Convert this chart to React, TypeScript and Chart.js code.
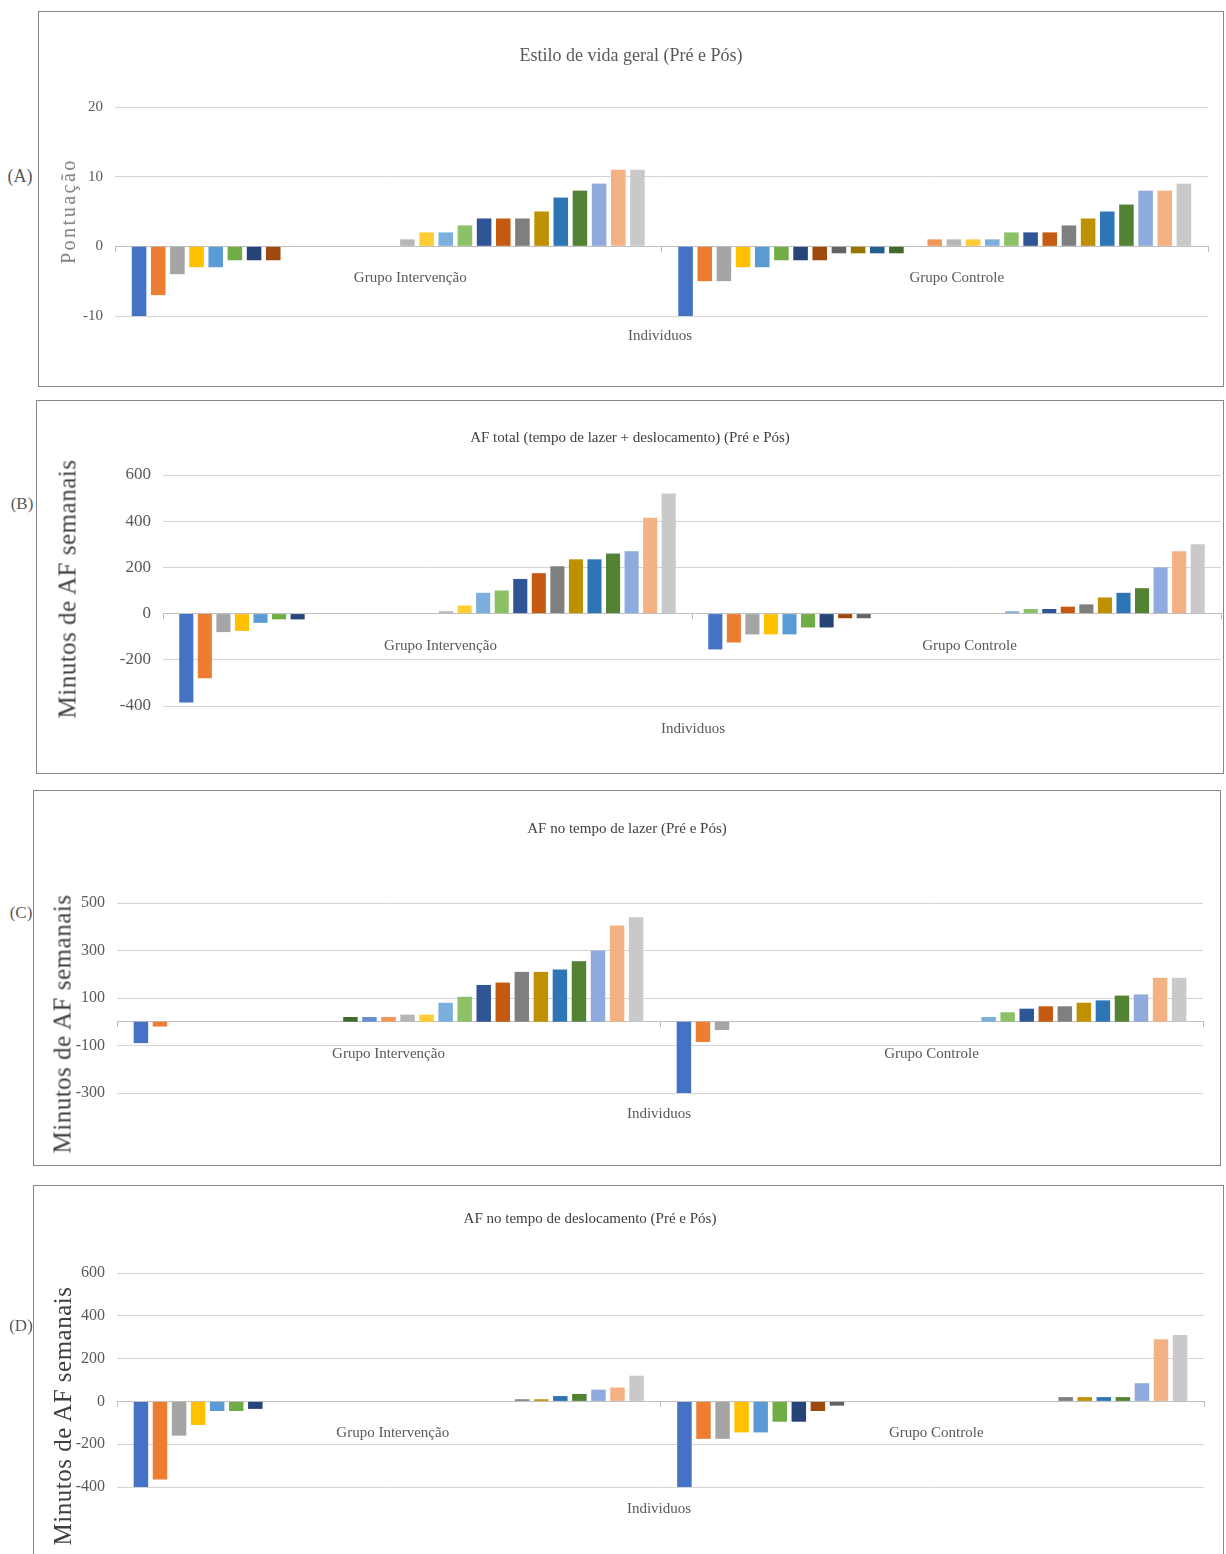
import React, { useEffect, useRef } from "react";
import { Chart, registerables } from "chart.js";

Chart.register(...registerables);

const FONT = "'Liberation Serif', 'Times New Roman', serif";
Chart.defaults.font.family = FONT;

// ---------- data ----------
const categories = ["Grupo Intervenção", "Grupo Controle"];

const seriesColors = [
  "#4472C4", "#ED7D31", "#A5A5A5", "#FFC000", "#5B9BD5", "#70AD47",
  "#264478", "#9E480E", "#636363", "#997300", "#255E91", "#43682B",
  "#698ED0", "#F1975A", "#B7B7B7", "#FFCD33", "#7CAFDD", "#8CC168",
  "#2F5597", "#C55A11", "#7F7F7F", "#BF9000", "#2E75B6", "#548235",
  "#8FAADC", "#F4B183", "#C9C9C9",
];

// (A) Estilo de vida geral
const aIntervencao = [-10, -7, -4, -3, -3, -2, -2, -2, 0, 0, 0, 0, 0, 0, 1, 2, 2, 3, 4, 4, 4, 5, 7, 8, 9, 11, 11];
const aControle = [-10, -5, -5, -3, -3, -2, -2, -2, -1, -1, -1, -1, 0, 1, 1, 1, 1, 2, 2, 2, 3, 4, 5, 6, 8, 8, 9];
const aTicks = { min: -10, max: 20, step: 10 };

// (B) AF total
const bIntervencao = [-385, -280, -80, -75, -40, -25, -25, 0, 0, 0, 0, 0, 0, 0, 10, 35, 90, 100, 150, 175, 205, 235, 235, 260, 270, 415, 520];
const bControle = [-155, -125, -90, -90, -90, -60, -60, -20, -20, 0, 0, 0, 0, 0, 0, 0, 10, 20, 20, 30, 40, 70, 90, 110, 200, 270, 300];
const bTicks = { min: -400, max: 600, step: 200 };

// (C) AF no tempo de lazer
const cIntervencao = [-90, -20, 0, 0, 0, 0, 0, 0, 0, 0, 0, 20, 20, 20, 30, 30, 80, 105, 155, 165, 210, 210, 220, 255, 300, 405, 440];
const cControle = [-300, -85, -35, 0, 0, 0, 0, 0, 0, 0, 0, 0, 0, 0, 0, 0, 20, 40, 55, 65, 65, 80, 90, 110, 115, 185, 185];
const cTicks = { min: -300, max: 500, step: 200 };

// (D) AF no tempo de deslocamento
const dIntervencao = [-400, -365, -160, -110, -45, -45, -35, 0, 0, 0, 0, 0, 0, 0, 0, 0, 0, 0, 0, 0, 10, 10, 25, 35, 55, 65, 120];
const dControle = [-400, -175, -175, -145, -145, -95, -95, -45, -20, 0, 0, 0, 0, 0, 0, 0, 0, 0, 0, 0, 20, 20, 20, 20, 85, 290, 310];
const dTicks = { min: -400, max: 600, step: 200 };

// ---------- panel layout ----------
type PanelCfg = {
  letter: string;
  title: string;
  yTitle: string;
  interv: number[];
  ctrl: number[];
  ticks: { min: number; max: number; step: number };
  box: { l: number; t: number; r: number; b: number };
  plot: { l: number; t: number; r: number; b: number };
  letterPos: [number, number, number];
  titlePos: [number, number, number, string];
  yTitlePos: [number, number, number, number, string];
  xTitlePos: [number, number];
  tickSize: number;
  labelOffset: number;
};

const panels: PanelCfg[] = [
  {
    letter: "(A)",
    title: "Estilo de vida geral (Pré e Pós)",
    yTitle: "Pontuação",
    interv: aIntervencao,
    ctrl: aControle,
    ticks: aTicks,
    box: { l: 38, t: 11, r: 1224, b: 387 },
    plot: { l: 115, t: 107, r: 1208, b: 316 },
    letterPos: [20, 176, 18],
    titlePos: [631, 55, 18, "#595959"],
    yTitlePos: [68, 211, 20, 2.5, "#7f7f7f"],
    xTitlePos: [660, 335],
    tickSize: 15,
    labelOffset: 22,
  },
  {
    letter: "(B)",
    title: "AF total (tempo de lazer + deslocamento) (Pré e Pós)",
    yTitle: "Minutos de AF semanais",
    interv: bIntervencao,
    ctrl: bControle,
    ticks: bTicks,
    box: { l: 36, t: 400, r: 1224, b: 774 },
    plot: { l: 163, t: 475, r: 1221, b: 706 },
    letterPos: [22, 503, 17],
    titlePos: [630, 437, 15, "#404040"],
    yTitlePos: [67, 589, 25, 0.5, "#404040"],
    xTitlePos: [693, 728],
    tickSize: 17,
    labelOffset: 13,
  },
  {
    letter: "(C)",
    title: "AF no tempo de lazer (Pré e Pós)",
    yTitle: "Minutos de AF semanais",
    interv: cIntervencao,
    ctrl: cControle,
    ticks: cTicks,
    box: { l: 33, t: 790, r: 1221, b: 1166 },
    plot: { l: 117, t: 903, r: 1203, b: 1093 },
    letterPos: [21, 912, 17],
    titlePos: [627, 828, 15, "#404040"],
    yTitlePos: [62, 1024, 25, 0.5, "#404040"],
    xTitlePos: [659, 1113],
    tickSize: 16,
    labelOffset: 0,
  },
  {
    letter: "(D)",
    title: "AF no tempo de deslocamento (Pré e Pós)",
    yTitle: "Minutos de AF semanais",
    interv: dIntervencao,
    ctrl: dControle,
    ticks: dTicks,
    box: { l: 33, t: 1185, r: 1224, b: 1572 },
    plot: { l: 117, t: 1273, r: 1204, b: 1487 },
    letterPos: [21, 1325, 17],
    titlePos: [590, 1218, 15, "#404040"],
    yTitlePos: [62, 1416, 25, 0.5, "#404040"],
    xTitlePos: [659, 1508],
    tickSize: 16,
    labelOffset: 4,
  },
];

function textStyle(
  cx: number,
  cy: number,
  size: number,
  color: string,
  rotate = false,
  letterSpacing = 0
): React.CSSProperties {
  return {
    position: "absolute",
    left: cx,
    top: cy,
    transform: `translate(-50%, -50%)${rotate ? " rotate(-90deg)" : ""}`,
    fontFamily: FONT,
    fontSize: size,
    color,
    whiteSpace: "nowrap",
    letterSpacing,
    lineHeight: 1,
  };
}

function Panel({ cfg }: { cfg: PanelCfg }) {
  const ref = useRef<HTMLCanvasElement>(null);
  const { box, plot } = cfg;
  const w = box.r - box.l;
  const h = box.b - box.t;

  useEffect(() => {
    if (!ref.current) return;
    const yWidth = plot.l - box.l;
    const datasets = seriesColors.map((color, i) => ({
      label: `Indivíduo ${i + 1}`,
      data: [cfg.interv[i], cfg.ctrl[i]],
      backgroundColor: color,
      borderWidth: 0,
      categoryPercentage: 0.947,
      barPercentage: 0.76,
    }));
    const chart = new Chart(ref.current, {
      type: "bar",
      data: { labels: categories, datasets },
      options: {
        animation: false,
        responsive: true,
        maintainAspectRatio: false,
        events: [],
        layout: {
          padding: {
            left: 0,
            top: plot.t - box.t,
            right: box.r - plot.r,
            bottom: box.b - plot.b,
          },
        },
        plugins: {
          legend: { display: false },
          tooltip: { enabled: false },
          title: { display: false },
        },
        scales: {
          x: {
            axis: "x",
            position: { y: 0 } as any,
            grid: {
              display: true,
              drawOnChartArea: false,
              drawTicks: true,
              tickLength: 5,
              color: "#bfbfbf",
            },
            border: { display: true, color: "#bfbfbf", width: 1 },
            ticks: {
              font: { family: FONT, size: 15 },
              color: "#595959",
              padding: 18,
              labelOffset: cfg.labelOffset,
              maxRotation: 0,
              minRotation: 0,
              autoSkip: false,
            },
          },
          y: {
            min: cfg.ticks.min,
            max: cfg.ticks.max,
            ticks: {
              stepSize: cfg.ticks.step,
              font: { family: FONT, size: cfg.tickSize },
              color: "#595959",
              padding: 12,
            },
            grid: { color: "#d4d4d4", drawTicks: false, lineWidth: 1 },
            border: { display: false },
            afterFit: (scale: any) => {
              scale.width = yWidth;
            },
          },
        },
      },
    });
    return () => chart.destroy();
  }, [cfg]);

  return (
    <>
      <div
        style={{
          position: "absolute",
          left: box.l,
          top: box.t,
          width: w,
          height: h,
          boxSizing: "border-box",
          border: "1px solid #868686",
        }}
      />
      <div
        style={{
          position: "absolute",
          left: box.l,
          top: box.t,
          width: w,
          height: h,
        }}
      >
        <canvas ref={ref} />
      </div>
      <div style={textStyle(cfg.letterPos[0], cfg.letterPos[1], cfg.letterPos[2], "#595959")}>
        {cfg.letter}
      </div>
      <div style={textStyle(cfg.titlePos[0], cfg.titlePos[1], cfg.titlePos[2], cfg.titlePos[3])}>
        {cfg.title}
      </div>
      <div
        style={textStyle(
          cfg.yTitlePos[0],
          cfg.yTitlePos[1],
          cfg.yTitlePos[2],
          cfg.yTitlePos[4],
          true,
          cfg.yTitlePos[3]
        )}
      >
        {cfg.yTitle}
      </div>
      <div style={textStyle(cfg.xTitlePos[0], cfg.xTitlePos[1], 15, "#595959")}>Individuos</div>
    </>
  );
}

export default function App() {
  return (
    <div
      style={{
        position: "absolute",
        left: 0,
        top: 0,
        width: 1226,
        height: 1554,
        overflow: "hidden",
        background: "#ffffff",
      }}
    >
      {panels.map((p) => (
        <Panel key={p.letter} cfg={p} />
      ))}
    </div>
  );
}
